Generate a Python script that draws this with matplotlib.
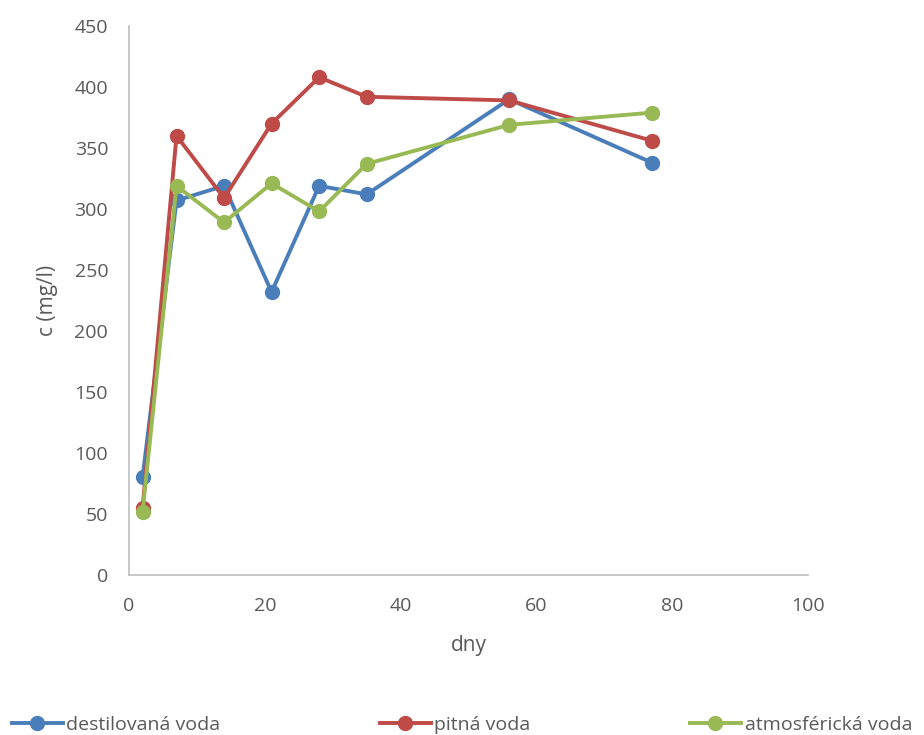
import matplotlib
matplotlib.use("Agg")
import matplotlib.pyplot as plt

plt.rcParams['font.family'] = ['Open Sans', 'DejaVu Sans']

days = [2, 7, 14, 21, 28, 35, 56, 77]
destil = [80, 307, 319, 232, 319, 312, 390, 338]
pitna = [55, 360, 309, 370, 408, 392, 389, 356]
atmos = [52, 319, 289, 321, 298, 337, 369, 379]

labels = ['destilovaná voda', 'pitná voda', 'atmosférická voda']
colors = ['#4a7ebb', '#be4b48', '#98b954']

fig = plt.figure(figsize=(9.24, 7.35), dpi=100)
ax = fig.add_axes([0.1396, 0.2177, 0.7349, 0.7469])

for ys, lab, col in zip([destil, pitna, atmos], labels, colors):
    ax.plot(days, ys, color=col, lw=2.8, marker='o', ms=10, label=lab)

ax.set_xlim(0, 100)
ax.set_ylim(0, 450)
ax.set_xticks(range(0, 101, 20))
ax.set_yticks(range(0, 451, 50))
for s in ['top', 'right']:
    ax.spines[s].set_visible(False)
for s in ['left', 'bottom']:
    ax.spines[s].set_color('#bfbfbf')
    ax.spines[s].set_linewidth(1.2)
ax.tick_params(length=0, labelsize=14, colors='#595959')
ax.tick_params(axis='x', pad=16)
ax.tick_params(axis='y', pad=15)
ax.set_xlabel('dny', fontsize=15, color='#595959', labelpad=14)
ax.set_ylabel('c (mg/l)', fontsize=15, color='#595959', labelpad=12)

fig.legend(loc='lower center', bbox_to_anchor=(0.5, -0.022), ncol=3, frameon=False,
           fontsize=14, labelcolor='#595959', columnspacing=8.2, handlelength=2.6,
           handletextpad=0.2)

fig.savefig('out.png', dpi=100)
